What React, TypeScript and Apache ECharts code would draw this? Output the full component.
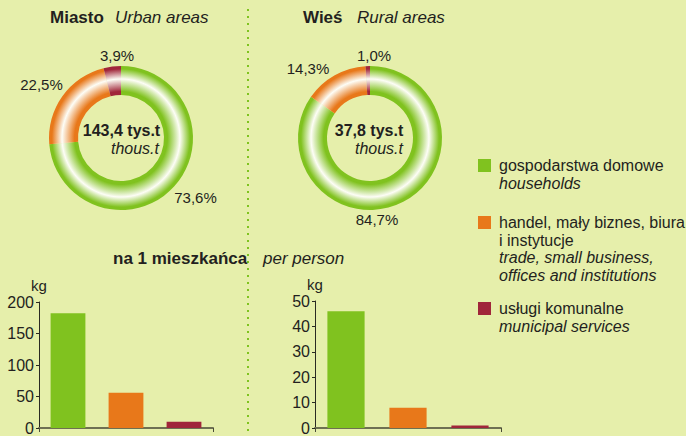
import React, { useEffect, useRef } from "react";
import * as echarts from "echarts";

const categoriesPl = ["gospodarstwa domowe", "handel, mały biznes, biura", "usługi komunalne"];
const categoriesPlExtra = ["", "i instytucje", ""];
const categoriesEn = [["households"], ["trade, small business,", "offices and institutions"], ["municipal services"]];
const colors = ["#80c21f", "#e8781a", "#a0263a"];

const urbanShare = [73.6, 22.5, 3.9];
const ruralShare = [84.7, 14.3, 1.0];
const urbanTotal = "143,4";
const ruralTotal = "37,8";

const urbanPerPerson = [182, 56, 10];
const ruralPerPerson = [46, 8, 1];

const FONT = "Liberation Sans, Arial, Helvetica, sans-serif";
const TEXT = "#231f20";
const BG = "#e6efab";

const fmtPct = (v: number) => v.toFixed(1).replace(".", ",") + "%";

function ringColor(c: string, cx: number, cy: number, r: number, inner: number) {
  const i = inner / r;
  const span = 1 - i;
  return {
    type: "radial",
    x: cx,
    y: cy,
    r: r,
    global: true,
    colorStops: [
      { offset: 0, color: c },
      { offset: i, color: c },
      { offset: i + span * 0.12, color: c },
      { offset: i + span * 0.55, color: "#fdfdf6" },
      { offset: i + span * 0.9, color: c },
      { offset: 1, color: c },
    ],
  };
}

export default function App() {
  const ref = useRef<HTMLDivElement>(null);
  useEffect(() => {
    if (!ref.current) return;
    const chart = echarts.init(ref.current, undefined, { renderer: "svg" });

    const pieL = { cx: 121, cy: 138, r0: 43, r: 72 };
    const pieR = { cx: 370, cy: 138, r0: 43, r: 72 };

    const pieSeries = (p: typeof pieL, shares: number[]) => ({
      type: "pie",
      center: [p.cx, p.cy],
      radius: [p.r0, p.r],
      startAngle: 90,
      clockwise: true,
      silent: true,
      label: { show: false },
      labelLine: { show: false },
      itemStyle: { borderWidth: 0 },
      data: shares.map((v, i) => ({
        value: v,
        name: categoriesPl[i],
        itemStyle: { color: ringColor(colors[i], p.cx, p.cy, p.r, p.r0) },
      })),
    });

    const txt = (x: number, y: number, text: string, style: any = {}) => ({
      type: "text",
      x,
      y,
      style: {
        text,
        fontFamily: FONT,
        fontSize: 15,
        fill: TEXT,
        textVerticalAlign: "middle",
        ...style,
      },
    });

    const pctLabelsL = [
      [195.5, 197],
      [41.5, 84.5],
      [117, 55],
    ];
    const pctLabelsR = [
      [377, 219.5],
      [308, 68],
      [374, 55],
    ];

    const legendGraphics: any[] = [];
    const legendY = [165.5, 222.5, 308.5];
    const lineH = 17.5;
    categoriesPl.forEach((name, i) => {
      legendGraphics.push({
        type: "rect",
        shape: { x: 478, y: legendY[i] - 6.5, width: 13, height: 13 },
        style: { fill: colors[i] },
      });
      const lines: string[] = [];
      lines.push("{n|" + name + "}");
      if (categoriesPlExtra[i]) lines.push("{n|" + categoriesPlExtra[i] + "}");
      categoriesEn[i].forEach((l) => lines.push("{i|" + l + "}"));
      legendGraphics.push({
        type: "text",
        x: 499,
        y: legendY[i] - lineH / 2,
        style: {
          text: lines.join("\n"),
          fontFamily: FONT,
          fontSize: 16,
          fill: TEXT,
          textVerticalAlign: "top",
          rich: {
            n: { fontFamily: FONT, fontSize: 16, lineHeight: lineH, color: TEXT },
            i: { fontFamily: FONT, fontSize: 16, fontStyle: "italic", color: TEXT, lineHeight: lineH },
          },
        },
      });
    });

    const yAxisCommon = {
      type: "value",
      name: "kg",
      nameLocation: "end",
      nameGap: 9,
      nameTextStyle: { fontFamily: FONT, fontSize: 15, color: TEXT, align: "center" },
      axisLine: { show: true, lineStyle: { color: "#2a2a22", width: 1 } },
      axisTick: { show: true, length: 3, lineStyle: { color: "#2a2a22" } },
      axisLabel: { fontFamily: FONT, fontSize: 16, color: TEXT, margin: 5 },
      splitLine: { show: false },
    };
    const xAxisCommon = {
      type: "category",
      data: categoriesPl,
      axisLine: { show: true, lineStyle: { color: "#6e7052", width: 2 } },
      axisTick: { show: true, length: 4, lineStyle: { color: "#4a4c38", width: 1 } },
      axisLabel: { show: false },
    };

    const option: any = {
      animation: false,
      backgroundColor: BG,
      grid: [
        { left: 39, top: 302, width: 174, height: 131 },
        { left: 315, top: 301, width: 186, height: 132 },
      ],
      xAxis: [
        { ...xAxisCommon, gridIndex: 0 },
        { ...xAxisCommon, gridIndex: 1 },
      ],
      yAxis: [
        { ...yAxisCommon, gridIndex: 0, min: 0, max: 200, interval: 50 },
        { ...yAxisCommon, gridIndex: 1, min: 0, max: 50, interval: 10 },
      ],
      series: [
        pieSeries(pieL, urbanShare),
        pieSeries(pieR, ruralShare),
        {
          type: "bar",
          xAxisIndex: 0,
          yAxisIndex: 0,
          barWidth: "60%",
          silent: true,
          data: urbanPerPerson.map((v, i) => ({ value: v, itemStyle: { color: colors[i] } })),
        },
        {
          type: "bar",
          xAxisIndex: 1,
          yAxisIndex: 1,
          barWidth: "60%",
          silent: true,
          data: ruralPerPerson.map((v, i) => ({ value: v, itemStyle: { color: colors[i] } })),
        },
      ],
      graphic: [
        {
          type: "line",
          shape: { x1: 248, y1: 9, x2: 248, y2: 436 },
          style: { stroke: "#7fc31f", lineWidth: 2, lineDash: [2, 5] },
          silent: true,
        },
        txt(50, 17, "Miasto", { fontSize: 17, fontWeight: "bold" }),
        txt(115, 17, "Urban areas", { fontSize: 17, fontStyle: "italic" }),
        txt(303, 17, "Wieś", { fontSize: 17, fontWeight: "bold" }),
        txt(357, 17, "Rural areas", { fontSize: 17, fontStyle: "italic" }),
        txt(113, 258, "na 1 mieszkańca", { fontSize: 17, fontWeight: "bold" }),
        txt(263, 258, "per person", { fontSize: 17, fontStyle: "italic" }),
        txt(121.5, 130, urbanTotal + " tys.t", { fontSize: 16, fontWeight: "bold", textAlign: "center" }),
        txt(159, 148, "thous.t", { fontSize: 16, fontStyle: "italic", textAlign: "right" }),
        txt(369, 130, ruralTotal + " tys.t", { fontSize: 16, fontWeight: "bold", textAlign: "center" }),
        txt(403, 148, "thous.t", { fontSize: 16, fontStyle: "italic", textAlign: "right" }),
        ...urbanShare.map((v, i) => txt(pctLabelsL[i][0], pctLabelsL[i][1], fmtPct(v), { textAlign: "center" })),
        ...ruralShare.map((v, i) => txt(pctLabelsR[i][0], pctLabelsR[i][1], fmtPct(v), { textAlign: "center" })),
        ...legendGraphics,
      ],
    };
    chart.setOption(option);
    return () => chart.dispose();
  }, []);
  return (
    <div
      ref={ref}
      style={{ position: "absolute", left: 0, top: 0, width: 686, height: 436 }}
    />
  );
}
